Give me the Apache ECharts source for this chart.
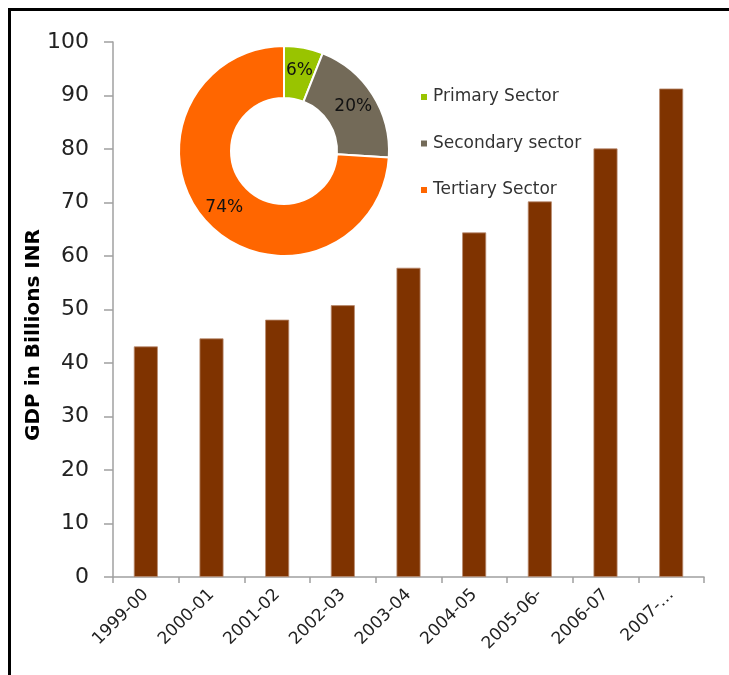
<!DOCTYPE html>
<html>
<head>
<meta charset="utf-8">
<script src="https://cdn.jsdelivr.net/npm/echarts@6/dist/echarts.min.js"></script>
<style>
html,body{margin:0;padding:0;background:#fff;}
#chart{width:729px;height:675px;}
</style>
</head>
<body>
<div id="chart"></div>
<script>
const years = ['1999-00','2000-01','2001-02','2002-03','2003-04','2004-05','2005-06-','2006-07','2007-…'];
const gdp = [43.1, 44.6, 48.1, 50.8, 57.8, 64.4, 70.2, 80.1, 91.3];
const sectors = ['Primary Sector','Secondary sector','Tertiary Sector'];
const sectorShare = [6, 20, 74];
const sectorColors = ['#99C400','#736A58','#FF6600'];
const yTicks = [0,10,20,30,40,50,60,70,80,90,100];
const yTitle = 'GDP in Billions INR';

const chart = echarts.init(document.getElementById('chart'), null, {renderer:'canvas'});
const font = '"DejaVu Sans", sans-serif';
chart.setOption({
  animation:false,
  backgroundColor:'#fff',
  graphic:[
    {type:'polyline', shape:{points:[[9.5,800],[9.5,9.5],[900,9.5]]}, style:{fill:null,stroke:'#000',lineWidth:3}, silent:true},
    {type:'text', x:34, y:335, rotation:Math.PI/2, silent:true,
     style:{text:yTitle, font:'bold 20px "DejaVu Sans", sans-serif', fill:'#000', textAlign:'center', textVerticalAlign:'middle'}}
  ],
  grid:{left:113, right:25, top:42, bottom:98},
  legend:{
    data:sectors, orient:'vertical', left:419, top:87, padding:0,
    itemWidth:8, itemHeight:8, itemGap:26.5, icon:'rect',
    textStyle:{fontSize:17, lineHeight:20, color:'#333', fontFamily:font},
  },
  xAxis:{
    type:'category', data:years,
    axisLine:{lineStyle:{color:'#a0a0a0', width:1.5}},
    axisTick:{show:true, alignWithLabel:false, length:6, lineStyle:{color:'#a0a0a0', width:1.5}},
    axisLabel:{rotate:45, fontSize:17, color:'#222', fontFamily:font, margin:15, interval:0}
  },
  yAxis:{
    type:'value', min:0, max:100, interval:10,
    axisLine:{show:true, lineStyle:{color:'#a0a0a0', width:1.5}},
    axisTick:{show:true, length:9, lineStyle:{color:'#a0a0a0', width:1.5}},
    splitLine:{show:false},
    axisLabel:{fontSize:22, color:'#222', fontFamily:font, margin:24,
      formatter:function(v){return yTicks.indexOf(v)>=0?String(v):'';}}
  },
  series:[
    {type:'bar', data:gdp, barWidth:24, itemStyle:{color:'#7F3300', borderColor:'#B98A6E', borderWidth:0.8}},
    {type:'pie', center:[284,151], radius:[53,105], startAngle:90, clockwise:true,
     data:sectors.map((n,i)=>({name:n, value:sectorShare[i], itemStyle:{color:sectorColors[i]}})),
     itemStyle:{borderColor:'#fff', borderWidth:2},
     label:{show:true, position:'inside', formatter:'{c}%', fontSize:17, color:'#111', fontFamily:font},
     labelLine:{show:false}, emphasis:{disabled:true}}
  ]
});
</script>
</body>
</html>
